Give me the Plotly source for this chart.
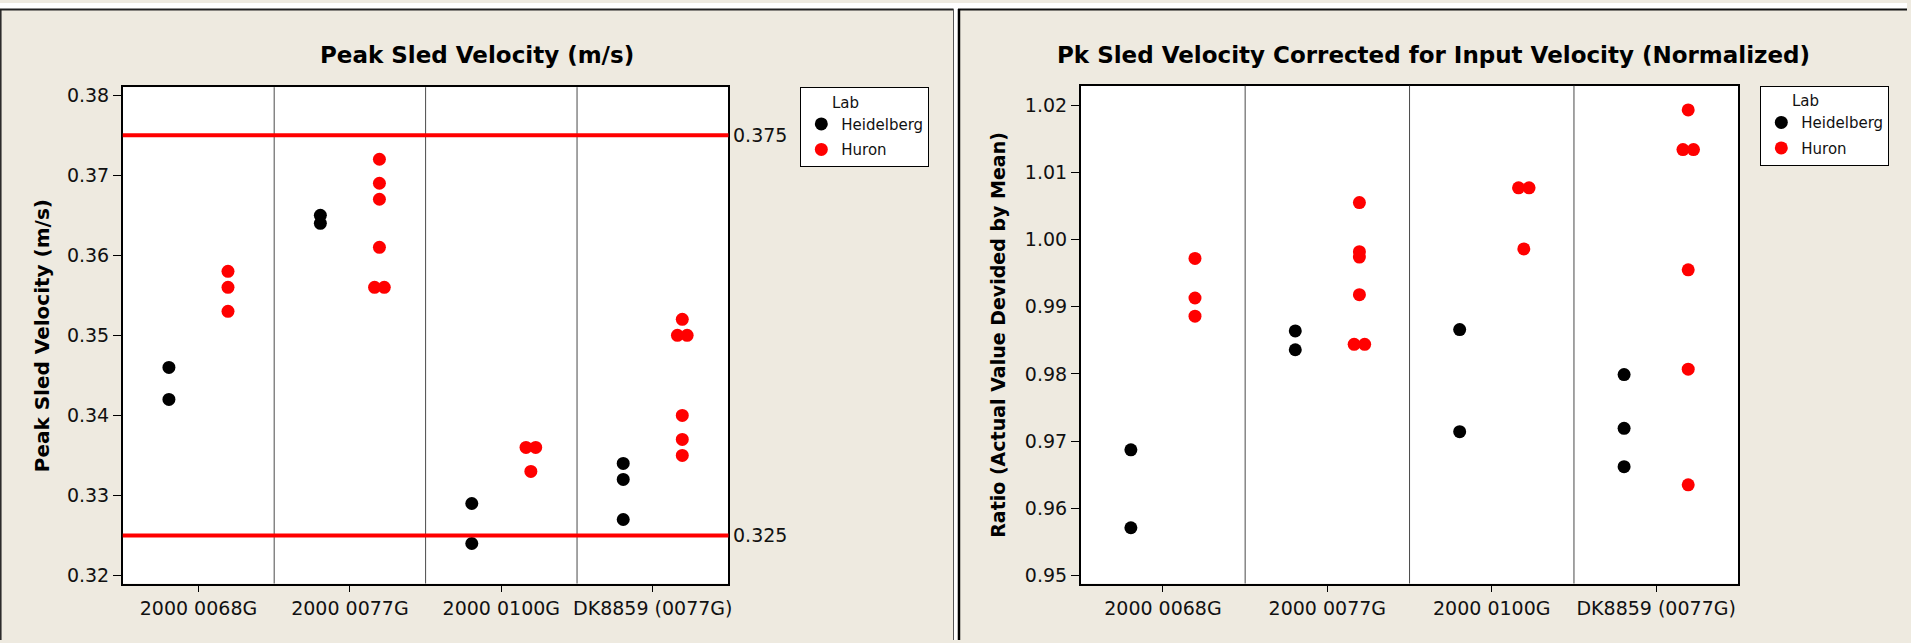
import plotly.graph_objects as go

# ---- data -------------------------------------------------------------
categories = ["2000 0068G", "2000 0077G", "2000 0100G", "DK8859 (0077G)"]
labs = ["Heidelberg", "Huron"]

# Peak sled velocity (m/s), one list per category
peak_heidelberg = [[0.346, 0.342], [0.365, 0.364], [0.329, 0.324], [0.334, 0.332, 0.327]]
peak_huron = [[0.358, 0.356, 0.353],
              [0.372, 0.369, 0.367, 0.361, 0.356, 0.356],
              [0.336, 0.336, 0.333],
              [0.352, 0.350, 0.350, 0.340, 0.337, 0.335]]
peak_limits = [0.375, 0.325]
peak_ticks = [0.32, 0.33, 0.34, 0.35, 0.36, 0.37, 0.38]

# Peak velocity corrected for input velocity, normalized by mean
ratio_heidelberg = [[0.9687, 0.9571], [0.9864, 0.9836], [0.9866, 0.9714], [0.9799, 0.9719, 0.9662]]
ratio_huron = [[0.9972, 0.9913, 0.9886],
               [1.0055, 0.9982, 0.9974, 0.9918, 0.9844, 0.9844],
               [1.0077, 1.0077, 0.9986],
               [1.0193, 1.0134, 1.0134, 0.9955, 0.9807, 0.9635]]
ratio_ticks = [0.95, 0.96, 0.97, 0.98, 0.99, 1.00, 1.01, 1.02]

# ---- layout helpers ---------------------------------------------------
W, H = 1911, 643
BG = "#EEEAE0"
FONT = "DejaVu Sans"
COLORS = {"Heidelberg": "#000000", "Huron": "#FF0000"}
DODGE = {"Heidelberg": -0.195, "Huron": 0.195}
TIE_STEP = 0.032


def px_x(p):
    return p / W


def px_y(p):
    return 1 - p / H


def positions(groups, lab):
    """x/y for an individual value plot: labs dodged, equal values side by side."""
    xs, ys = [], []
    for i, vals in enumerate(groups):
        seen = {}
        for v in vals:
            seen[v] = seen.get(v, 0) + 1
        placed = {}
        for v in vals:
            n = seen[v]
            k = placed.get(v, 0)
            placed[v] = k + 1
            off = (k - (n - 1) / 2) * 2 * TIE_STEP if n > 1 else 0.0
            xs.append(i + DODGE[lab] + off)
            ys.append(v)
    return xs, ys


fig = go.Figure()

panels = [
    ("x", "y", "legend", {"Heidelberg": peak_heidelberg, "Huron": peak_huron}),
    ("x2", "y2", "legend2", {"Heidelberg": ratio_heidelberg, "Huron": ratio_huron}),
]
for xa, ya, leg, series in panels:
    for lab in labs:
        xs, ys = positions(series[lab], lab)
        fig.add_trace(go.Scatter(
            x=xs, y=ys, mode="markers", name=lab,
            xaxis=xa, yaxis=ya, legend=leg, legendgroup=f"{leg}-{lab}",
            marker=dict(size=13, color=COLORS[lab], line=dict(width=0)),
            hoverinfo="x+y",
        ))

tickfont = dict(family=FONT, size=19, color="#111111")
common_x = dict(range=[-0.5, 3.5], tickmode="array", tickvals=list(range(len(categories))),
                ticktext=categories, ticks="outside", ticklen=7, tickwidth=1, tickcolor="black",
                showline=True, linecolor="black", linewidth=1.5, mirror=True,
                showgrid=False, zeroline=False, tickfont=tickfont, fixedrange=True)
common_y = dict(tickmode="array", tickformat=".2f", ticks="outside", ticklen=8, tickwidth=1,
                tickcolor="black", showline=True, linecolor="black", linewidth=1.5, mirror=True,
                showgrid=False, zeroline=False, tickfont=tickfont, fixedrange=True)

fig.update_layout(
    xaxis=dict(common_x, domain=[px_x(123), px_x(730)], anchor="y"),
    yaxis=dict(common_y, domain=[px_y(586), px_y(85)], range=[0.3190, 0.3810],
               tickvals=peak_ticks, anchor="x"),
    xaxis2=dict(common_x, domain=[px_x(1083), px_x(1742)], anchor="y2"),
    yaxis2=dict(common_y, domain=[px_y(586), px_y(83.5)], range=[0.9488, 1.0229],
                tickvals=ratio_ticks, anchor="x2"),
)

legend_font = dict(family=FONT, size=15, color="#111111")
legend_style = dict(xanchor="left", yanchor="top", bgcolor="white", bordercolor="black",
                    borderwidth=1, font=legend_font,
                    title=dict(text="\u00a0" * 6 + "Lab", font=legend_font),
                    itemwidth=30, tracegroupgap=3)
fig.update_layout(
    legend=dict(legend_style, x=px_x(802), y=px_y(85)),
    legend2=dict(legend_style, x=px_x(1764), y=px_y(83.5)),
)

shapes = []
# page decoration: white strip on top and panel frames
shapes.append(dict(type="rect", xref="paper", yref="paper", x0=0, x1=1, y0=px_y(6), y1=1,
                   fillcolor="white", line=dict(width=0), layer="below"))
shapes.append(dict(type="rect", xref="paper", yref="paper", x0=px_x(956), x1=px_x(960), y0=0, y1=px_y(6),
                   fillcolor="white", line=dict(width=0), layer="below"))
shapes.append(dict(type="line", xref="paper", yref="paper", x0=0, x1=px_x(955.5), y0=px_y(6.5), y1=px_y(6.5),
                   line=dict(color="#222222", width=2)))
shapes.append(dict(type="line", xref="paper", yref="paper", x0=px_x(960), x1=1, y0=px_y(6.5), y1=px_y(6.5),
                   line=dict(color="#111111", width=2)))
shapes.append(dict(type="line", xref="paper", yref="paper", x0=px_x(0.8), x1=px_x(0.8), y0=0, y1=px_y(6),
                   line=dict(color="#222222", width=1.5)))
shapes.append(dict(type="line", xref="paper", yref="paper", x0=px_x(955.5), x1=px_x(955.5), y0=0, y1=px_y(6),
                   line=dict(color="#555555", width=1)))
shapes.append(dict(type="line", xref="paper", yref="paper", x0=px_x(961), x1=px_x(961), y0=0, y1=px_y(6),
                   line=dict(color="#000000", width=2.5)))

# category separators inside each plot
for xr, yr in [("x", "y"), ("x2", "y2")]:
    for b in [0.5, 1.5, 2.5]:
        shapes.append(dict(type="line", xref=xr, yref=f"{yr} domain", x0=b, x1=b, y0=0, y1=1,
                           line=dict(color="#4a4a4a", width=1)))

# reference limits on the peak velocity plot
for lim in peak_limits:
    shapes.append(dict(type="line", xref="x domain", yref="y", x0=0, x1=1, y0=lim, y1=lim,
                       line=dict(color="#FF0000", width=4)))

annotations = []
for lim in peak_limits:
    annotations.append(dict(text=f"{lim:.3f}", xref="paper", yref="y", x=px_x(733), y=lim,
                            xanchor="left", yanchor="middle", showarrow=False,
                            font=dict(family=FONT, size=19, color="#111111")))

title_font = dict(family=FONT, size=23, color="#000000", weight="bold")
annotations.append(dict(text="Peak Sled Velocity (m/s)", xref="paper", yref="paper",
                        x=px_x(478), y=px_y(52), xanchor="center", yanchor="middle",
                        showarrow=False, font=title_font))
annotations.append(dict(text="Pk Sled Velocity Corrected for Input Velocity (Normalized)",
                        xref="paper", yref="paper", x=px_x(1437), y=px_y(52),
                        xanchor="center", yanchor="middle", showarrow=False, font=title_font))

annotations.append(dict(text="Peak Sled Velocity (m/s)", xref="paper", yref="paper",
                        x=px_x(42), y=px_y(335.5), textangle=-90, xanchor="center", yanchor="middle",
                        showarrow=False,
                        font=dict(family=FONT, size=20, color="#000000", weight="bold")))
annotations.append(dict(text="Ratio (Actual Value Devided by Mean)", xref="paper", yref="paper",
                        x=px_x(1000), y=px_y(335), textangle=-90, xanchor="center", yanchor="middle",
                        showarrow=False,
                        font=dict(family=FONT, size=19, color="#000000", weight="bold")))

fig.update_layout(
    width=W, height=H,
    margin=dict(l=0, r=0, t=0, b=0),
    paper_bgcolor=BG, plot_bgcolor="white",
    shapes=shapes, annotations=annotations,
    showlegend=True,
)

fig.write_html("out.html", config={"displayModeBar": False})
